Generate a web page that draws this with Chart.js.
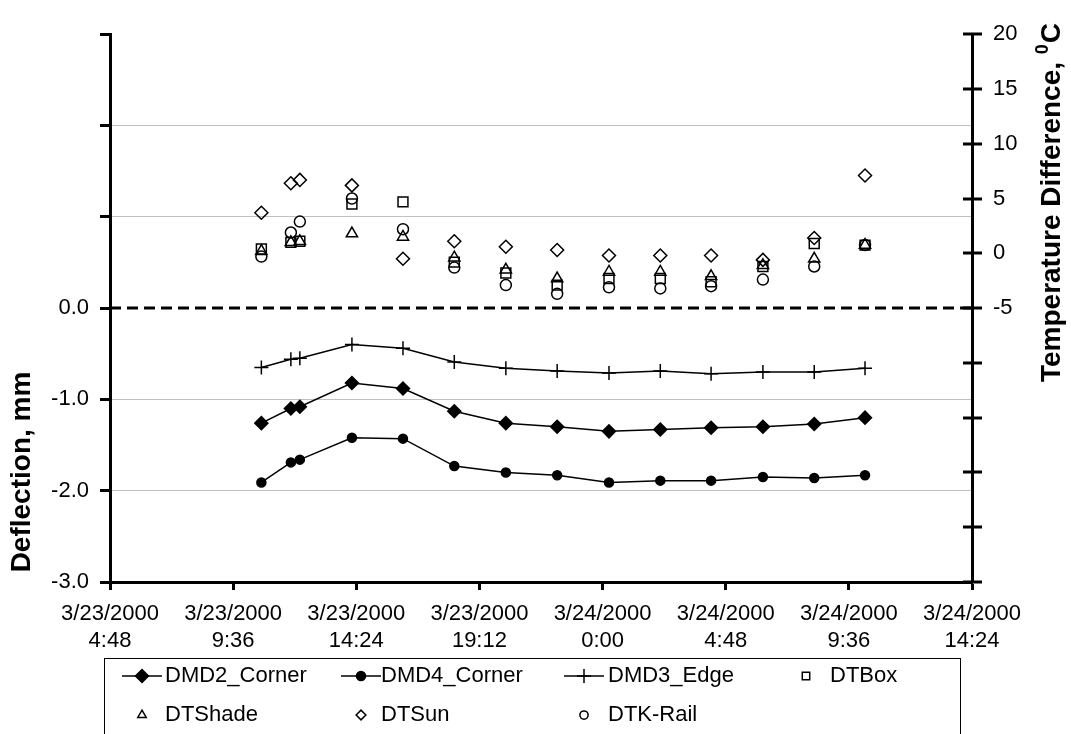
<!DOCTYPE html>
<html>
<head>
<meta charset="utf-8">
<script src="https://cdn.jsdelivr.net/npm/chart.js@4.4.1/dist/chart.umd.min.js"></script>
<style>
  html, body { margin: 0; padding: 0; background: #fff; }
  #wrap { width: 1071px; height: 734px; position: relative; }
</style>
</head>
<body>
<div id="wrap"><canvas id="deflChart"></canvas></div>
<script>
// time of each reading, hours after 3/23/2000 0:00
const hours = [10.7, 11.85, 12.2, 14.23, 16.22, 18.22, 20.23, 22.23, 24.25, 26.25, 28.23, 30.25, 32.25, 34.23];

// deflections, mm (left axis)
const dmd2Corner = [-1.26, -1.10, -1.08, -0.82, -0.88, -1.13, -1.26, -1.30, -1.35, -1.33, -1.31, -1.30, -1.27, -1.20];
const dmd4Corner = [-1.91, -1.69, -1.66, -1.42, -1.43, -1.73, -1.80, -1.83, -1.91, -1.89, -1.89, -1.85, -1.86, -1.83];
const dmd3Edge = [-0.65, -0.56, -0.55, -0.40, -0.44, -0.59, -0.66, -0.69, -0.71, -0.69, -0.72, -0.70, -0.70, -0.66];

// temperature differences, deg C (right axis)
const dtBox = [0.4, 1.0, 1.1, 4.5, 4.7, -0.8, -1.8, -2.9, -2.3, -2.3, -2.6, -1.2, 0.9, 0.75];
const dtShade = [0.2, 1.0, 1.1, 1.8, 1.5, -0.4, -1.5, -2.3, -1.7, -1.7, -2.1, -1.1, -0.5, 0.75];
const dtSun = [3.7, 6.4, 6.7, 6.2, -0.5, 1.1, 0.6, 0.3, -0.2, -0.2, -0.2, -0.6, 1.4, 7.1];
const dtKRail = [-0.3, 1.9, 2.9, 5.0, 2.2, -1.3, -2.9, -3.7, -3.1, -3.2, -3.0, -2.4, -1.2, 0.75];

const xTickHours = [4.8, 9.6, 14.4, 19.2, 24, 28.8, 33.6, 38.4];
const xTickLabels = [
  ['3/23/2000', '4:48'], ['3/23/2000', '9:36'], ['3/23/2000', '14:24'], ['3/23/2000', '19:12'],
  ['3/24/2000', '0:00'], ['3/24/2000', '4:48'], ['3/24/2000', '9:36'], ['3/24/2000', '14:24']
];

const FONT = "'Liberation Sans', Arial, Helvetica, sans-serif";
Chart.defaults.font.family = FONT;
Chart.defaults.font.size = 22;
Chart.defaults.color = '#000';

function pts(vals) {
  return vals.map((v, i) => ({ x: hours[i], y: v }));
}

function lineSet(label, vals, style, radius) {
  return {
    label: label, data: pts(vals), yAxisID: 'y', showLine: true,
    borderColor: '#000', borderWidth: 1.5,
    pointStyle: style, pointRadius: radius,
    pointBackgroundColor: '#000', pointBorderColor: '#000', pointBorderWidth: 1.5
  };
}

function markSet(label, vals, style, radius) {
  return {
    label: label, data: pts(vals), yAxisID: 'y2', showLine: false,
    pointStyle: style, pointRadius: radius,
    pointBackgroundColor: 'rgba(0,0,0,0)', pointBorderColor: '#000', pointBorderWidth: 1.5
  };
}

// zero line, right axis cross ticks, axis titles, legend box
const extras = {
  id: 'extras',
  beforeDatasetsDraw(chart) {
    const ctx = chart.ctx, area = chart.chartArea;
    const y0 = chart.scales.y.getPixelForValue(0);
    ctx.save();
    ctx.strokeStyle = '#000';
    ctx.lineWidth = 3;
    ctx.setLineDash([11, 6]);
    ctx.beginPath();
    ctx.moveTo(area.left, y0);
    ctx.lineTo(area.right, y0);
    ctx.stroke();
    ctx.restore();
  },
  afterDraw(chart) {
    const ctx = chart.ctx, area = chart.chartArea;
    const y2 = chart.scales.y2;
    ctx.save();
    ctx.strokeStyle = '#000';
    ctx.lineWidth = 3;
    y2.ticks.forEach(t => {
      const py = Math.round(y2.getPixelForValue(t.value));
      ctx.beginPath();
      ctx.moveTo(area.right - 9, py);
      ctx.lineTo(area.right + 10, py);
      ctx.stroke();
    });

    // axis titles
    ctx.fillStyle = '#000';
    ctx.textBaseline = 'middle';
    ctx.save();
    ctx.translate(22, 472);
    ctx.rotate(-Math.PI / 2);
    ctx.font = 'bold 28px ' + FONT;
    ctx.textAlign = 'center';
    ctx.fillText('Deflection, mm', 0, 0);
    ctx.restore();

    ctx.save();
    ctx.translate(1052, 203);
    ctx.rotate(-Math.PI / 2);
    const main = 'Temperature Difference, ';
    ctx.font = 'bold 28px ' + FONT;
    const w1 = ctx.measureText(main).width;
    const wC = ctx.measureText('C').width;
    ctx.font = 'bold 18px ' + FONT;
    const w0 = ctx.measureText('0').width;
    let x = -(w1 + w0 + wC) / 2;
    ctx.textAlign = 'left';
    ctx.font = 'bold 28px ' + FONT;
    ctx.fillText(main, x, 0);
    ctx.font = 'bold 18px ' + FONT;
    ctx.fillText('0', x + w1, -9);
    ctx.font = 'bold 28px ' + FONT;
    ctx.fillText('C', x + w1 + w0 + 1, 0);
    ctx.restore();

    // legend
    ctx.lineWidth = 1;
    ctx.strokeStyle = '#000';
    ctx.setLineDash([]);
    ctx.strokeRect(104.5, 658.5, 856, 120);
    const cols = [142, 361, 584, 806];
    const textX = [165, 381, 608, 830];
    const rows = [676, 715];
    ctx.font = '22px ' + FONT;
    ctx.textAlign = 'left';
    chart.data.datasets.forEach((ds, i) => {
      const c = i % 4, r = Math.floor(i / 4);
      const mx = cols[c], my = rows[r];
      ctx.strokeStyle = '#000';
      ctx.lineWidth = 1.5;
      if (ds.showLine) {
        ctx.beginPath();
        ctx.moveTo(mx - 20, my);
        ctx.lineTo(mx + 20, my);
        ctx.stroke();
      }
      ctx.fillStyle = ds.pointBackgroundColor;
      const opts = {
        pointStyle: ds.pointStyle,
        radius: ds.showLine ? ds.pointRadius : ds.pointRadius * 0.75,
        rotation: 0,
        borderWidth: 1.5
      };
      if (Chart.helpers && Chart.helpers.drawPoint) {
        Chart.helpers.drawPoint(ctx, opts, mx, my);
      }
      ctx.fillStyle = '#000';
      ctx.fillText(ds.label, textX[c], my);
    });
    ctx.restore();
  }
};

const ctx = document.getElementById('deflChart').getContext('2d');

new Chart(ctx, {
  type: 'scatter',
  data: {
    datasets: [
      lineSet('DMD2_Corner', dmd2Corner, 'rectRot', 6.5),
      lineSet('DMD4_Corner', dmd4Corner, 'circle', 4.5),
      lineSet('DMD3_Edge', dmd3Edge, 'cross', 7),
      markSet('DTBox', dtBox, 'rect', 7),
      markSet('DTShade', dtShade, 'triangle', 6.5),
      markSet('DTSun', dtSun, 'rectRot', 6.5),
      markSet('DTK-Rail', dtKRail, 'circle', 5.5)
    ]
  },
  options: {
    responsive: true,
    maintainAspectRatio: false,
    animation: false,
    layout: { padding: { top: 34, bottom: 0, left: 0, right: 0 } },
    plugins: {
      legend: { display: false },
      tooltip: { enabled: false }
    },
    scales: {
      x: {
        type: 'linear',
        min: 4.8,
        max: 38.4,
        afterBuildTicks: s => { s.ticks = xTickHours.map(v => ({ value: v })); },
        afterFit: s => { s.height = 152; },
        ticks: {
          autoSkip: false,
          maxRotation: 0,
          padding: 11,
          callback: (v, i) => xTickLabels[i]
        },
        grid: { drawOnChartArea: false, tickLength: 8, tickWidth: 3, tickColor: '#000' },
        border: { color: '#000', width: 3 }
      },
      y: {
        position: 'left',
        min: -3,
        max: 3,
        afterFit: s => { s.width = 110; },
        ticks: {
          stepSize: 1,
          padding: 11,
          callback: v => (v <= 0 ? v.toFixed(1) : '')
        },
        grid: {
          color: c => (c.tick && (Math.abs(c.tick.value) === 1 || Math.abs(c.tick.value) === 2)) ? '#c0c0c0' : 'rgba(0,0,0,0)',
          lineWidth: 1,
          tickColor: '#000',
          tickLength: 10,
          tickWidth: 3
        },
        border: { color: '#000', width: 3 }
      },
      y2: {
        position: 'right',
        min: -30,
        max: 20,
        afterFit: s => { s.width = 99; },
        ticks: {
          stepSize: 5,
          padding: 21,
          callback: v => (v >= -5 ? String(v) : '')
        },
        grid: { drawOnChartArea: false, drawTicks: false },
        border: { color: '#000', width: 3 }
      }
    }
  },
  plugins: [extras]
});
</script>
</body>
</html>
